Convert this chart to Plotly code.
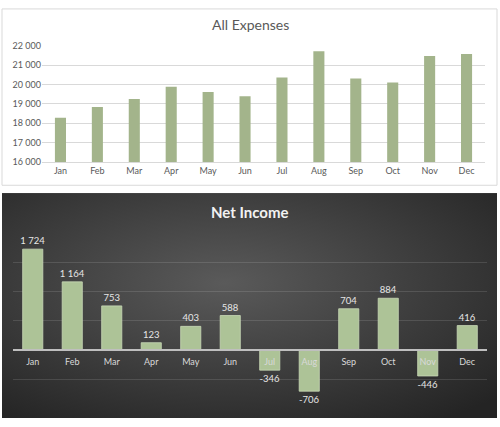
import plotly.graph_objects as go

months = ["Jan", "Feb", "Mar", "Apr", "May", "Jun", "Jul", "Aug", "Sep", "Oct", "Nov", "Dec"]
expenses = [18280, 18840, 19250, 19890, 19620, 19400, 20370, 21720, 20310, 20110, 21480, 21580]
net_income = [1724, 1164, 753, 123, 403, 588, -346, -706, 704, 884, -446, 416]

W, H = 500, 427


def py(px):
    # pixel row -> paper fraction
    return 1 - px / H


# radial gradient for the dark panel
svg = (
    "<svg xmlns='http://www.w3.org/2000/svg' width='495' height='231'>"
    "<defs><radialGradient id='g' cx='45%' cy='40%' r='75%'>"
    "<stop offset='0%' stop-color='#5a5a5a'/><stop offset='100%' stop-color='#242424'/>"
    "</radialGradient></defs><rect width='495' height='231' fill='url(#g)'/></svg>"
)
bg_uri = "data:image/svg+xml;charset=utf-8," + svg.replace("#", "%23").replace("<", "%3C").replace(">", "%3E")

fig = go.Figure()

fig.add_trace(go.Bar(
    x=months, y=expenses, xaxis="x", yaxis="y",
    marker=dict(color="#a3b48b", line=dict(width=0)),
    hoverinfo="x+y", showlegend=False,
))

fig.add_trace(go.Bar(
    x=months, y=net_income, xaxis="x2", yaxis="y2",
    marker=dict(color="#adc397", line=dict(color="#c9d8b8", width=0.8)),
    text=net_income, texttemplate="%{y:,d}", textposition="outside",
    constraintext="none",
    textfont=dict(color="#e6e6e6", size=9.5), cliponaxis=False,
    width=0.51, showlegend=False,
))

font = "Lato, 'Open Sans', sans-serif"

fig.update_layout(
    width=W, height=H,
    margin=dict(l=0, r=0, t=0, b=0),
    paper_bgcolor="white", plot_bgcolor="rgba(0,0,0,0)",
    separators=". ",
    font=dict(family=font),
    bargap=0.7,
    xaxis=dict(
        domain=[42 / W, 485 / W], anchor="y",
        showline=True, linecolor="#d9d9d9", linewidth=1,
        ticks="", tickfont=dict(size=9, color="#595959"),
    ),
    yaxis=dict(
        domain=[py(160), py(41)], anchor="x",
        range=[16000, 22000], dtick=1000, tickformat=",d",
        showgrid=True, gridcolor="#d9d9d9", zeroline=False,
        tickfont=dict(size=9, color="#595959"), ticks="",
    ),
    xaxis2=dict(
        domain=[13 / W, 487 / W], anchor="free",
        position=py(353),
        showline=True, linecolor="#bfbfbf", linewidth=2,
        ticks="", ticklabelstandoff=3, tickfont=dict(size=9, color="#d9d9d9"),
    ),
    yaxis2=dict(
        domain=[py(413), py(233)], anchor="x2",
        range=[-1000, 2000], dtick=500,
        showgrid=True, gridcolor="rgba(255,255,255,0.12)", zeroline=False,
        showticklabels=False, ticks="",
    ),
    shapes=[
        dict(type="rect", xref="paper", yref="paper",
             x0=2 / W, x1=497 / W, y0=py(184), y1=py(3),
             line=dict(color="#d9d9d9", width=1), fillcolor="rgba(0,0,0,0)", layer="below"),
    ],
    images=[
        dict(source=bg_uri, xref="paper", yref="paper",
             x=2 / W, y=py(192), sizex=495 / W, sizey=231 / H,
             xanchor="left", yanchor="top", sizing="stretch", layer="below"),
    ],
    annotations=[
        dict(text="All Expenses", xref="paper", yref="paper", x=0.5, y=py(19),
             yanchor="middle", showarrow=False, font=dict(size=14, color="#595959")),
        dict(text="<b>Net Income</b>", xref="paper", yref="paper", x=0.5, y=py(211),
             yanchor="middle", showarrow=False, font=dict(size=15, color="#f2f2f2")),
    ],
)

fig.write_html("out.html", config={"displayModeBar": False},
               post_script="document.body.style.margin='0';")
